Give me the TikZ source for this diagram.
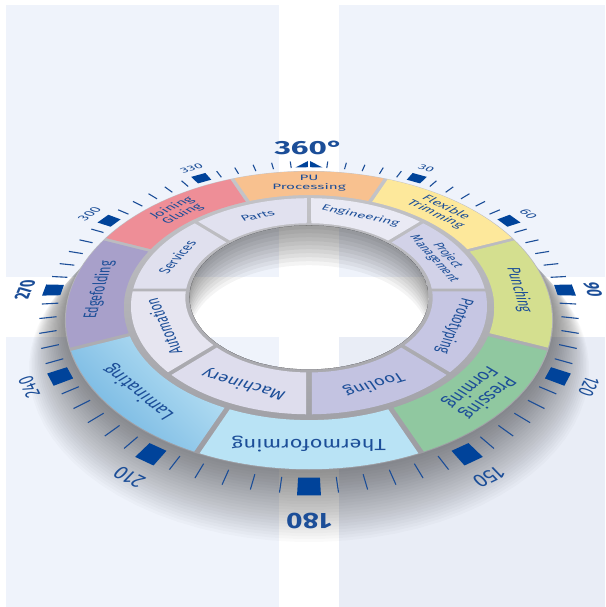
\documentclass[tikz,border=0pt]{standalone}
\usepackage{fontspec}
\setmainfont{Fira Sans}
\definecolor{panel}{HTML}{EFF3FB}
\definecolor{panelb}{HTML}{E9EDF6}
\definecolor{inkblue}{HTML}{1C4E98}
\definecolor{markblue}{HTML}{00439A}
\definecolor{ringtop}{HTML}{C6C6CA}
\definecolor{ringbot}{HTML}{9A9AA0}
\definecolor{puorange}{HTML}{F8C18F}
\definecolor{flexyellow}{HTML}{FDE89B}
\definecolor{punchgreen}{HTML}{D4DF8F}
\definecolor{pressgreen}{HTML}{90C8A0}
\definecolor{thermoblue}{HTML}{B9E3F5}
\definecolor{laminlight}{HTML}{BCE3F5}
\definecolor{lamindark}{HTML}{6FB3E0}
\definecolor{edgepurple}{HTML}{A8A0CA}
\definecolor{joinred}{HTML}{EE8E97}
\definecolor{partslav}{HTML}{E1E1EF}
\definecolor{enginlav}{HTML}{EAEAF4}
\definecolor{projlav}{HTML}{D2D2E8}
\definecolor{protolav}{HTML}{C6C6E3}
\definecolor{toollav}{HTML}{C3C3E1}
\definecolor{machlav}{HTML}{DEDDED}
\definecolor{autolav}{HTML}{E6E5F0}
\definecolor{servlav}{HTML}{E0E0EE}
\def\tiltk{0.00086}
\def\tiltc{0.6}
\tikzstyle{ringtext} = [text=inkblue, inner sep=0pt, align=center, font=\fontsize{18}{19}\selectfont]
\tikzstyle{innertext} = [ringtext, font=\fontsize{17}{18}\selectfont]
\tikzstyle{smalltext} = [ringtext, font=\fontsize{15.5}{16}\selectfont]
\tikzstyle{numtext} = [text=inkblue, inner sep=0pt, font=\fontsize{18}{18}\selectfont]
\tikzstyle{boldnum} = [numtext, font=\bfseries\fontsize{21}{21}\selectfont]
\tikzstyle{dialtick} = [draw=inkblue, line width=1.1pt]
\tikzstyle{dialmark} = [fill=markblue]
% one piece of the tilted ring: fill options, start angle, end angle, inner radius, outer radius
\newcommand{\ringpart}[5]{%
  \pgfmathsetmacro{\sega}{#2+143/#5}\pgfmathsetmacro{\segb}{#3-143/#5}%
  \pgfmathsetmacro{\segc}{#3-143/#4}\pgfmathsetmacro{\segd}{#2+143/#4}%
  \path[#1] plot[domain=\sega:\segb, samples=25, variable=\t] ({px(\t,#5)},{py(\t,#5)})
    -- plot[domain=\segc:\segd, samples=25, variable=\t] ({px(\t,#4)},{py(\t,#4)}) -- cycle;}
% a text laid flat on the tilted plane: name, angle, radius, style, text
\newcommand{\ringlabel}[5]{%
  \pgfmathsetmacro{\rlu}{#3*sin(#2)}%
  \pgfmathsetmacro{\rlv}{#3*cos(#2)}%
  \pgfmathsetmacro{\rld}{1+\tiltk*\rlv}%
  \pgfmathsetmacro{\rja}{cos(#2)/\rld+\tiltk*\rlu*sin(#2)/(\rld*\rld)}%
  \pgfmathsetmacro{\rjb}{-\tiltc*sin(#2)/(\rld*\rld)}%
  \pgfmathsetmacro{\rjc}{sin(#2)/\rld-\tiltk*\rlu*cos(#2)/(\rld*\rld)}%
  \pgfmathsetmacro{\rjd}{\tiltc*cos(#2)/(\rld*\rld)}%
  \pgfmathsetmacro{\rjx}{\rlu/\rld}%
  \pgfmathsetmacro{\rjy}{\tiltc*\rlv/\rld}%
  \begin{scope}[cm={\rja,\rjb,\rjc,\rjd,(\rjx,\rjy)}]
    \node[#4, transform shape] (#1) at (0,0) {#5};
  \end{scope}}

\begin{document}
\begin{tikzpicture}[x=1pt, y=1pt,
  declare function={pd(\aa,\rr)=1+0.00086*\rr*cos(\aa);
    px(\aa,\rr)=\rr*sin(\aa)/pd(\aa,\rr);
    py(\aa,\rr)=0.6*\rr*cos(\aa)/pd(\aa,\rr);}]

\useasboundingbox (-309,-317) rectangle (296,290);
\fill[white] (-309,-317) rectangle (296,290);
\fill[panel] (-303,13) rectangle (-30,285.4);
\fill[panel] (30,13) rectangle (296,285.4);
\fill[panel] (-303,-317) rectangle (-30,-47);
\fill[panelb] (30,-317) rectangle (296,-47);

% soft shadow under the ring
\foreach \i in {1,...,26}{
  \path[fill=black, fill opacity=0.018, even odd rule]
    plot[domain=0:360, samples=90, variable=\t] ({px(\t,236+1.4*\i)},{py(\t,236+1.4*\i)-1.5*\i}) -- cycle
    plot[domain=0:360, samples=60, variable=\t] ({px(\t,119)},{py(\t,119)}) -- cycle;
}

% grey base ring
\path[even odd rule, top color=ringtop, bottom color=ringbot]
  plot[domain=0:360, samples=120, variable=\t] ({px(\t,239)},{py(\t,239)}) -- cycle
  plot[domain=0:360, samples=90, variable=\t] ({px(\t,119)},{py(\t,119)}) -- cycle;

% shading inside the hole
\begin{scope}
  \clip plot[domain=0:360, samples=90, variable=\t] ({px(\t,119)},{py(\t,119)}) -- cycle;
  \foreach \j in {1,...,10}{
    \path[fill=black, fill opacity=0.045, even odd rule]
      plot[domain=0:360, samples=90, variable=\t] ({px(\t,119)},{py(\t,119)}) -- cycle
      plot[domain=0:360, samples=90, variable=\t] ({px(\t,119)},{py(\t,119)-4*\j}) -- cycle;
  }
\end{scope}

% outer ring
\ringpart{fill=puorange}{-22.5}{22.5}{183}{238}
\ringpart{fill=flexyellow}{22.5}{67.5}{183}{238}
\ringpart{fill=punchgreen}{67.5}{112.5}{183}{238}
\ringpart{fill=pressgreen}{112.5}{157.5}{183}{238}
\ringpart{fill=thermoblue}{157.5}{202.5}{183}{238}
\ringpart{top color=laminlight, bottom color=lamindark, shading angle=-45}{202.5}{247.5}{183}{238}
\ringpart{fill=edgepurple}{247.5}{292.5}{183}{238}
\ringpart{fill=joinred}{292.5}{337.5}{183}{238}

% inner ring
\ringpart{fill=enginlav}{0}{45}{123}{176}
\ringpart{fill=projlav}{45}{90}{123}{176}
\ringpart{fill=protolav}{90}{135}{123}{176}
\ringpart{fill=toollav}{135}{180}{123}{176}
\ringpart{fill=machlav}{180}{225}{123}{176}
\ringpart{fill=autolav}{225}{270}{123}{176}
\ringpart{fill=servlav}{270}{315}{123}{176}
\ringpart{fill=partslav}{315}{360}{123}{176}

% dial
\foreach \m in {0,30,...,330}
  \foreach \s in {5,10,...,25}
    \draw[dialtick] ({px(\m+\s,247)},{py(\m+\s,247)}) -- ({px(\m+\s,263)},{py(\m+\s,263)});
\foreach \a in {30,60,...,330}
  \fill[dialmark] ({px(\a-2,247)},{py(\a-2,247)}) -- ({px(\a+2,247)},{py(\a+2,247)})
    -- ({px(\a+2,265)},{py(\a+2,265)}) -- ({px(\a-2,265)},{py(\a-2,265)}) -- cycle;
\fill[dialmark] ({px(-3.8,248)},{py(-3.8,248)}) -- ({px(-0.3,248)},{py(-0.3,248)}) -- ({px(-0.3,263)},{py(-0.3,263)}) -- cycle;
\fill[dialmark] ({px(3.8,248)},{py(3.8,248)}) -- ({px(0.3,248)},{py(0.3,248)}) -- ({px(0.3,263)},{py(0.3,263)}) -- cycle;

\node[text=inkblue, inner sep=0pt, font=\bfseries\fontsize{19}{19}\selectfont] (n360) at ({px(0,297)},{py(0,297)}) {\scalebox{1.65}[1]{360°}};
\ringlabel{n30}{30}{284}{numtext}{30}
\ringlabel{n60}{60}{284}{numtext}{60}
\ringlabel{n90}{90}{284}{boldnum}{90}
\ringlabel{n120}{120}{284}{numtext}{120}
\ringlabel{n150}{150}{284}{numtext}{150}
\ringlabel{n180}{180}{290}{boldnum}{180}
\ringlabel{n210}{210}{284}{numtext}{210}
\ringlabel{n240}{240}{284}{numtext}{240}
\ringlabel{n270}{270}{284}{boldnum}{270}
\ringlabel{n300}{300}{284}{numtext}{300}
\ringlabel{n330}{330}{284}{numtext}{330}

% labels of the outer ring
\ringlabel{pu}{0}{210}{ringtext}{PU\\Processing}
\ringlabel{flex}{45}{210}{ringtext}{Flexible\\Trimming}
\ringlabel{punch}{90}{210}{ringtext}{Punching}
\ringlabel{press}{135}{210}{ringtext}{Pressing\\Forming}
\ringlabel{thermo}{180}{210}{ringtext}{Thermoforming}
\ringlabel{lamin}{225}{210}{ringtext}{Laminating}
\ringlabel{edge}{270}{210}{ringtext}{Edgefolding}
\ringlabel{join}{315}{210}{ringtext}{Joining\\Gluing}

% labels of the inner ring
\ringlabel{engin}{22.5}{150}{innertext}{Engineering}
\ringlabel{projm}{67.5}{150}{smalltext}{Project\\Management}
\ringlabel{proto}{112.5}{150}{innertext}{Prototyping}
\ringlabel{tool}{157.5}{150}{innertext}{Tooling}
\ringlabel{mach}{202.5}{150}{innertext}{Machinery}
\ringlabel{auto}{247.5}{150}{innertext}{Automation}
\ringlabel{serv}{292.5}{150}{innertext}{Services}
\ringlabel{parts}{337.5}{150}{innertext}{Parts}

\end{tikzpicture}
\end{document}
